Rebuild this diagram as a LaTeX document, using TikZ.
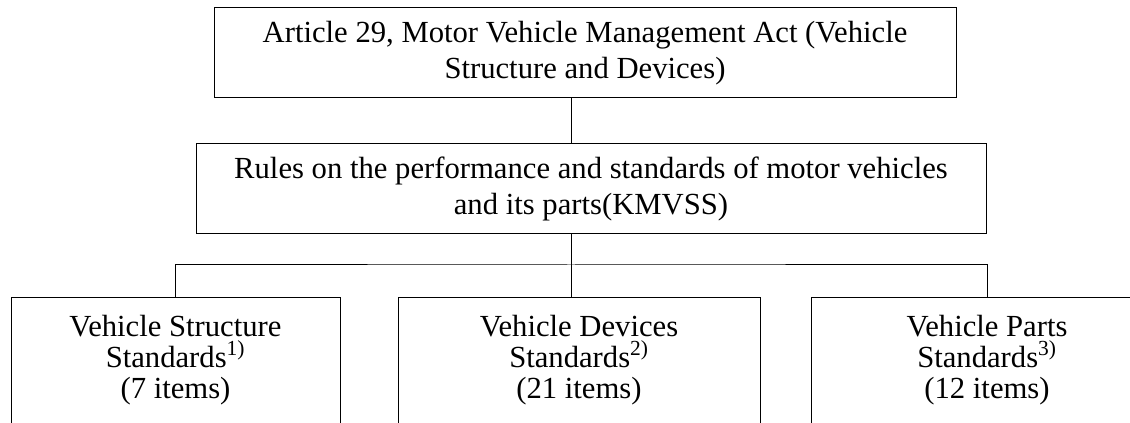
\documentclass[tikz,border=0pt]{standalone}
\usepackage{fontspec}
\setmainfont{Liberation Serif}
\usetikzlibrary{positioning}
\newcommand\stdfont{\fontsize{23}{23}\selectfont\lineskiplimit=-10pt\relax}
\tikzset{
  law/box/.style={draw, line width=0.75pt, align=center, inner sep=0pt, font=\fontsize{23}{27}\selectfont},
  law/std/.style={law/box, anchor=north, inner ysep=13.5pt, text depth=40pt, font=\stdfont},
  law/link/.style={line width=0.75pt}
}
\begin{document}
\begin{tikzpicture}[x=0.75pt,y=-0.75pt]
  \clip (0,0) rectangle (1130,423);
  % act and rules
  \node[law/box, minimum width=556.5pt, minimum height=67.5pt] (act) at (585,53)
    {Article 29, Motor Vehicle Management Act (Vehicle\\Structure and Devices)};
  \node[law/box, minimum width=592.5pt, minimum height=67.5pt] (rules) at (591,189)
    {Rules on the performance and standards of motor vehicles\\and its parts(KMVSS)};
  \coordinate (hub) at (571,265);

  % standards
  \node[law/std, minimum width=246.75pt] (structure) at (175.5,297)
    {Vehicle Structure\\Standards\textsuperscript{1)}\\(7 items)};
  \node[law/std, minimum width=271.5pt] (devices) at (579,297)
    {Vehicle Devices\\Standards\textsuperscript{2)}\\(21 items)};
  \node[law/std, minimum width=264pt] (parts) at (987,297)
    {Vehicle Parts\\Standards\textsuperscript{3)}\\(12 items)};

  \draw[law/link] (act.south -| hub) -- (rules.north -| hub);
  \draw[law/link] (rules.south -| hub) -- (hub);
  \draw[law/link] (structure.north) |- (hub) -| (parts.north);
  \draw[law/link] (hub) -- (devices.north -| hub);
\end{tikzpicture}
\end{document}
